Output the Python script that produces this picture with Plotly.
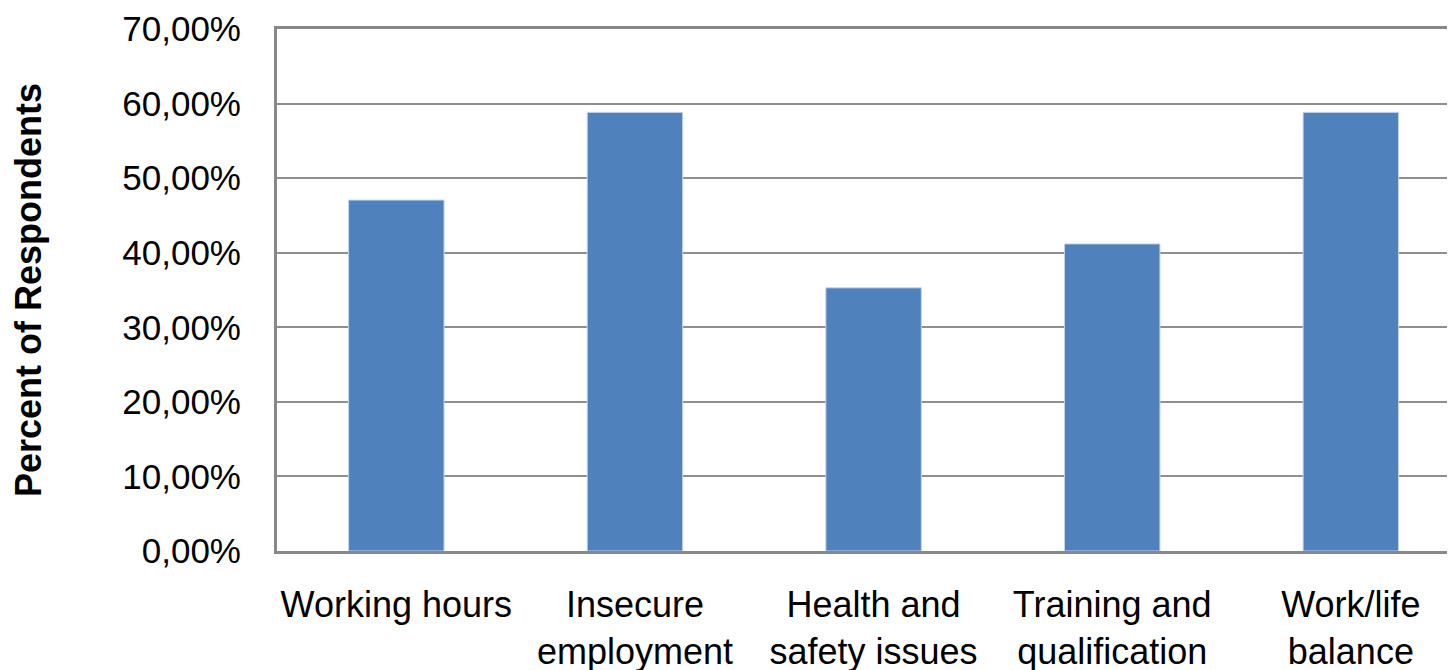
import plotly.graph_objects as go

categories = ["Working hours", "Insecure<br>employment", "Health and<br>safety issues",
              "Training and<br>qualification", "Work/life<br>balance"]
values = [47.06, 58.82, 35.29, 41.18, 58.82]
y_ticks = [0, 10, 20, 30, 40, 50, 60, 70]

fig = go.Figure(go.Bar(
    x=list(range(len(categories))), y=values, width=0.4,
    marker=dict(color="#4F81BD", line=dict(color="#C5D4EA", width=1)),
))

font = "Liberation Sans, Arial, sans-serif"
fig.update_layout(
    width=1455, height=670,
    margin=dict(l=269, r=0, t=21, b=127),
    paper_bgcolor="white", plot_bgcolor="white",
    separators=",.",
    showlegend=False,
    font=dict(family=font, size=35, color="#000000"),
)
fig.update_xaxes(
    tickmode="array", tickvals=list(range(len(categories))), ticktext=categories,
    range=[-0.5, 4.47], showgrid=False, showline=True, linecolor="#888888",
    linewidth=3, mirror=True, ticks="", tickfont=dict(size=36, family=font),
    ticklabelstandoff=20,
)
fig.update_yaxes(
    range=[0, 70], tickmode="array", tickvals=y_ticks,
    ticktext=[f"{v:.2f}%".replace(".", ",") for v in y_ticks],
    showgrid=True, gridcolor="#8f8f8f", gridwidth=2,
    showline=True, linecolor="#888888", linewidth=3,
    ticks="", tickfont=dict(size=35, family=font), ticklabelstandoff=26,
    title=dict(text="<b>Percent of Respondents</b>", font=dict(size=36, family=font), standoff=72),
    zeroline=False,
)
fig.write_html("out.html")
